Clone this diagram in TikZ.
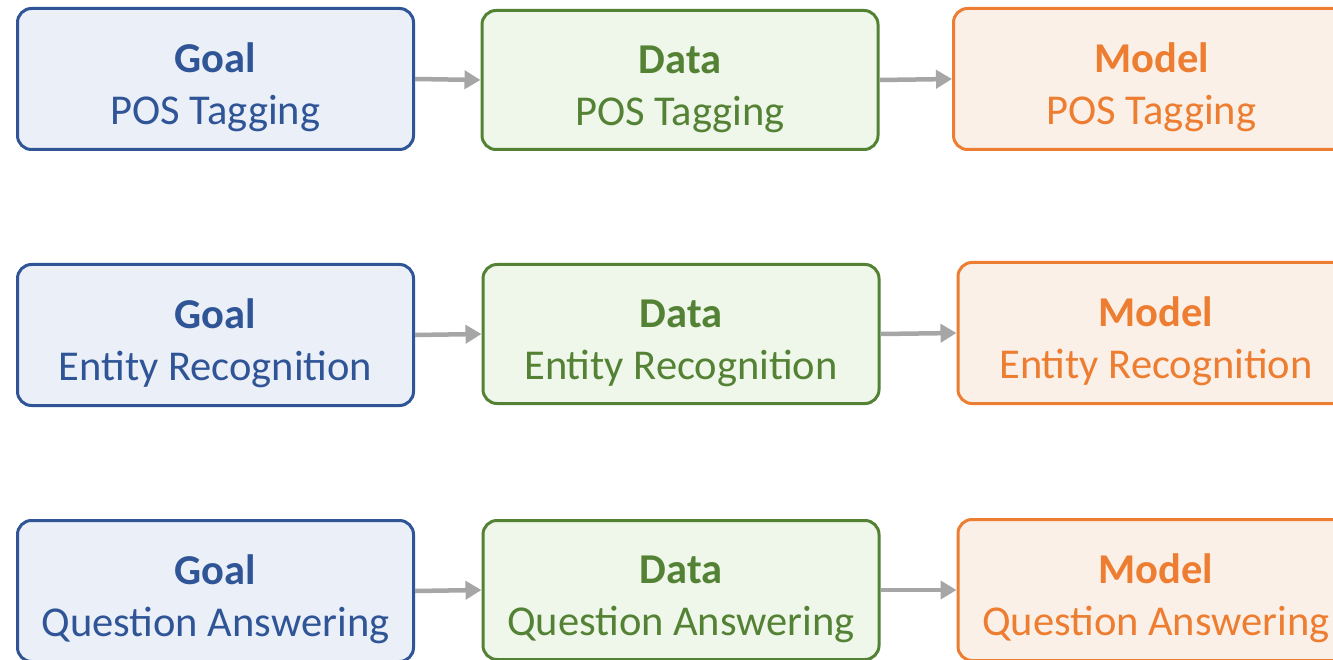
\documentclass[tikz,border=0pt]{standalone}
\usepackage{fontspec}
\setmainfont{Carlito}
\usetikzlibrary{arrows.meta}
\definecolor{goalc}{HTML}{2F5597}
\definecolor{goalf}{HTML}{EAEFF8}
\definecolor{datac}{HTML}{548235}
\definecolor{dataf}{HTML}{EFF6EA}
\definecolor{modelc}{HTML}{ED7D31}
\definecolor{modelf}{HTML}{FBF0E8}
\definecolor{arrc}{HTML}{A6A6A6}
% a tall strut in the first line pushes the two-line label slightly down
\newcommand{\toprow}[1]{\rule{0pt}{46pt}\textbf{#1}}
\tikzset{
  stage/.style={rectangle, rounded corners=14pt, line width=3pt,
    minimum width=396pt, minimum height=141pt, align=center,
    inner sep=0pt, font=\fontsize{42.5}{52}\selectfont},
  goalbox/.style={stage, draw=goalc, fill=goalf, text=goalc},
  databox/.style={stage, draw=datac, fill=dataf, text=datac, minimum height=139pt},
  modelbox/.style={stage, draw=modelc, fill=modelf, text=modelc},
  flow/.style={draw=arrc, line width=4.5pt, -{Triangle[length=16pt,width=18pt]}}
}
\begin{document}
\begin{tikzpicture}[x=1pt,y=-1pt]
\clip (0,0) rectangle (1333,660);
\fill[white] (0,0) rectangle (1333,660);
% row 1
\node[goalbox]  (g1) at (215.5,79) {\toprow{Goal}\\POS Tagging};
\node[databox]  (d1) at (680,80) {\toprow{Data}\\POS Tagging};
\node[modelbox] (m1) at (1151.5,79) {\toprow{Model}\\POS Tagging};
% row 2
\node[goalbox]  (g2) at (215.5,335) {\toprow{Goal}\\Entity Recognition};
\node[databox]  (d2) at (681,334) {\toprow{Data}\\Entity Recognition};
\node[modelbox] (m2) at (1156,333) {\toprow{Model}\\Entity Recognition};
% row 3
\node[goalbox]  (g3) at (215.5,591) {\toprow{Goal}\\Question Answering};
\node[databox]  (d3) at (681,590) {\toprow{Data}\\Question Answering};
\node[modelbox] (m3) at (1156,590) {\toprow{Model}\\Question Answering};
% connectors
\draw[flow] (g1.east) -- (d1.west);
\draw[flow] (d1.east) -- (m1.west);
\draw[flow] (g2.east) -- (d2.west);
\draw[flow] (d2.east) -- (m2.west);
\draw[flow] (g3.east) -- (d3.west);
\draw[flow] (d3.east) -- (m3.west);
\end{tikzpicture}
\end{document}
